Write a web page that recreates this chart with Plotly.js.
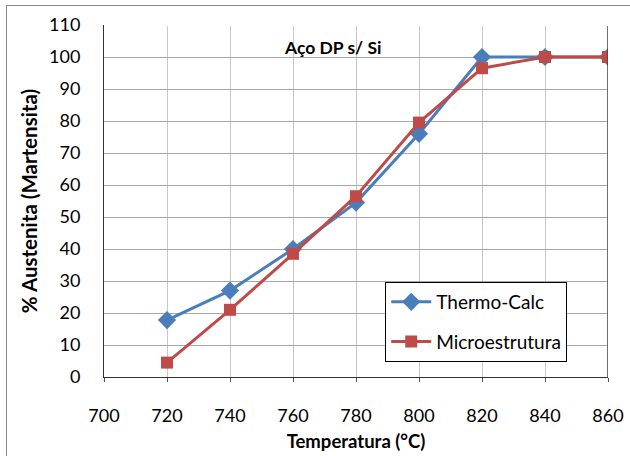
<!DOCTYPE html>
<html>
<head>
<meta charset="utf-8">
<script src="https://cdn.plot.ly/plotly-3.0.1.min.js"></script>
<style>
html,body{margin:0;padding:0;background:#fff;}
#wrap{position:relative;width:630px;height:456px;overflow:hidden;}
#chart{position:absolute;left:0;top:0;width:630px;height:456px;}
#frame{position:absolute;left:6px;top:5px;width:700px;height:600px;border-left:1.5px solid #8a8a8a;border-top:1.5px solid #8a8a8a;pointer-events:none;}
</style>
</head>
<body>
<div id="wrap"><div id="chart"></div><div id="frame"></div></div>
<script>
const temperatures = [720, 740, 760, 780, 800, 820, 840, 860];
const thermoCalc = [17.8, 27, 40, 54.5, 76, 100, 100, 100];
const microestrutura = [4.5, 21, 38.5, 56.5, 79.5, 96.5, 100, 100];
const xTicks = [700, 720, 740, 760, 780, 800, 820, 840, 860];
const yTicks = [0, 10, 20, 30, 40, 50, 60, 70, 80, 90, 100, 110];
const seriesNames = ['Thermo-Calc', 'Microestrutura'];
const chartTitle = 'Aço DP s/ Si';
const xTitle = 'Temperatura (°C)';
const yTitle = '% Austenita (Martensita)';

const FONT = 'Lato, "Open Sans", sans-serif';

const traces = [
  {x: temperatures, y: thermoCalc, name: seriesNames[0], legendgroup: 'a', mode: 'lines+markers', type: 'scatter',
   line: {color: '#4A7EBB', width: 3},
   marker: {symbol: 'diamond', size: 14, color: '#4A7EBB'}},
  {x: temperatures, y: microestrutura, name: seriesNames[1], legendgroup: 'b', mode: 'lines+markers', type: 'scatter',
   line: {color: '#BE4B48', width: 3},
   marker: {symbol: 'square', size: 12, color: '#BE4B48'}}
];

const layout = {
  width: 630, height: 456,
  margin: {l: 104, r: 22, t: 25, b: 79, pad: 0},
  paper_bgcolor: '#ffffff', plot_bgcolor: '#ffffff',
  font: {family: FONT, size: 16, color: '#000'},
  showlegend: true,
  legend: {x: 0.558, y: 0.27, xanchor: 'left', yanchor: 'top',
    bgcolor: '#ffffff', bordercolor: '#000', borderwidth: 1,
    font: {family: FONT, size: 19, color: '#000'},
    itemwidth: 40, tracegroupgap: 12},
  xaxis: {range: [700, 860], tickvals: xTicks, ticktext: xTicks.map(String),
    showgrid: true, gridcolor: '#c8c8c8', gridwidth: 1,
    showline: true, linecolor: '#333', linewidth: 1,
    ticks: 'outside', ticklen: 4, tickcolor: '#555', ticklabelstandoff: 18,
    zeroline: false, tickfont: {family: FONT, size: 18, color: '#000'},
    title: {text: xTitle, font: {family: FONT, size: 18.5, color: '#000', weight: 'bold'}, standoff: 10}},
  yaxis: {range: [0, 110], tickvals: yTicks, ticktext: yTicks.map(String),
    showgrid: true, gridcolor: '#a8a8a8', gridwidth: 1,
    showline: true, linecolor: '#333', linewidth: 1,
    ticks: '', zeroline: false, ticklabelstandoff: 19,
    tickfont: {family: FONT, size: 18, color: '#000'},
    title: {text: yTitle, font: {family: FONT, size: 20.5, color: '#000', weight: 'bold'}, standoff: 5}},
  shapes: [
    {type: 'line', xref: 'x', yref: 'y', x0: 860, x1: 860, y0: 0, y1: 110, line: {color: '#404040', width: 1.5}},
    {type: 'line', xref: 'paper', yref: 'y', x0: 0, x1: 1, y0: 110, y1: 110, line: {color: '#ffffff', width: 2}}
  ],
  annotations: [
    {text: chartTitle, xref: 'paper', yref: 'paper', x: 0.455, y: 0.935, xanchor: 'center', yanchor: 'middle',
     showarrow: false, font: {family: FONT, size: 17.5, color: '#000', weight: 'bold'}}
  ]
};

Plotly.newPlot('chart', traces, layout, {staticPlot: true, displayModeBar: false});
</script>
</body>
</html>
